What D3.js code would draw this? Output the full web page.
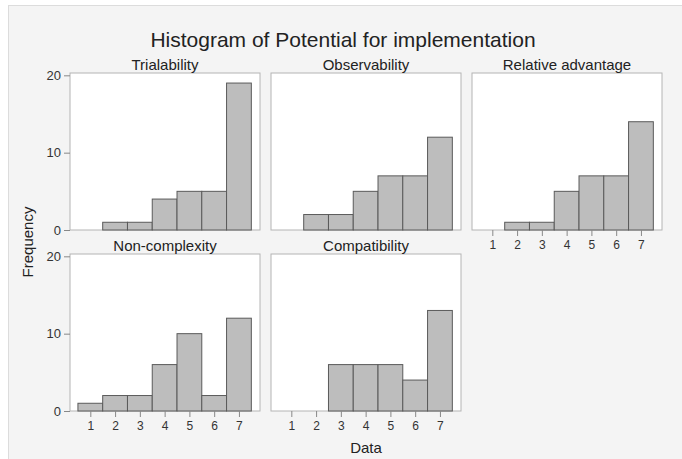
<!DOCTYPE html>
<html>
<head>
<meta charset="utf-8">
<script src="https://cdn.jsdelivr.net/npm/d3@7"></script>
<style>
  body { margin: 0; background: #fff; }
  svg { display: block; font-family: "Liberation Sans", Arial, sans-serif; }
</style>
</head>
<body>
<div id="chart"></div>
<script>
// Data
const panels = ["Trialability", "Observability", "Relative advantage", "Non-complexity", "Compatibility"];
const bins = [1, 2, 3, 4, 5, 6, 7];
const trialability = [0, 1, 1, 4, 5, 5, 19];
const observability = [0, 2, 2, 5, 7, 7, 12];
const relativeAdvantage = [0, 1, 1, 5, 7, 7, 14];
const nonComplexity = [1, 2, 2, 6, 10, 2, 12];
const compatibility = [0, 0, 6, 6, 6, 4, 13];
const counts = [trialability, observability, relativeAdvantage, nonComplexity, compatibility];
const yTicks = [0, 10, 20];

const W = 682, H = 459;
const svg = d3.select("#chart").append("svg")
    .attr("width", W)
    .attr("height", H);

// Background + frame
svg.append("rect")
    .attr("x", 8.5).attr("y", 5.5)
    .attr("width", W).attr("height", H)
    .attr("fill", "#f4f4f4")
    .attr("stroke", "#dcdcdc");

// Title
svg.append("text")
    .attr("x", 343).attr("y", 47)
    .attr("text-anchor", "middle")
    .style("font-size", "21px")
    .style("fill", "#222")
    .text("Histogram of Potential for implementation");

// Panel geometry
const colX = [70, 271, 472];
const rowY = [73, 254];
const pw = 190, ph = 157;

const x0 = d3.scaleLinear().domain([0.18, 7.85]).range([0, pw]);
const y0 = d3.scaleLinear().domain([0, 20.3]).range([ph, 0]);

panels.forEach((name, i) => {
    const col = i % 3, row = Math.floor(i / 3);
    const g = svg.append("g")
        .attr("transform", `translate(${colX[col]},${rowY[row]})`);

    g.append("rect")
        .attr("width", pw).attr("height", ph)
        .attr("fill", "#fff")
        .attr("stroke", "#b4b4b4");

    g.append("text")
        .attr("x", pw / 2).attr("y", -3)
        .attr("text-anchor", "middle")
        .style("font-size", "15px")
        .style("fill", "#222")
        .text(name);

    g.selectAll("rect.bar")
        .data(bins.map((b, j) => ({ b: b, n: counts[i][j] })).filter(d => d.n > 0))
        .enter()
        .append("rect")
        .attr("class", "bar")
        .attr("x", d => x0(d.b - 0.5))
        .attr("y", d => y0(d.n))
        .attr("width", d => x0(d.b + 0.5) - x0(d.b - 0.5))
        .attr("height", d => y0(0) - y0(d.n))
        .attr("fill", "#bdbdbd")
        .attr("stroke", "#5a5a5a")
        .attr("stroke-width", 1);

    // y axis only on first column
    if (col === 0) {
        const ya = g.append("g")
            .call(d3.axisLeft(y0).tickValues(yTicks).tickSize(6).tickPadding(3));
        ya.select(".domain").remove();
        ya.selectAll("line").attr("stroke", "#888");
        ya.selectAll("text").style("font-size", "13px").style("fill", "#333")
            .style("font-family", "\"Liberation Sans\", Arial, sans-serif");
    }

    // x axis on the bottom panel of each column
    if (row === 1 || col === 2) {
        const xa = g.append("g")
            .attr("transform", `translate(0,${ph})`)
            .call(d3.axisBottom(x0).tickValues(bins).tickSize(6).tickPadding(4));
        xa.select(".domain").remove();
        xa.selectAll("line").attr("stroke", "#888");
        xa.selectAll("text").style("font-size", "12px").style("fill", "#333")
            .style("font-family", "\"Liberation Sans\", Arial, sans-serif");
    }
});

// Axis labels
svg.append("text")
    .attr("transform", `translate(33,${(rowY[0] + rowY[1] + ph) / 2}) rotate(-90)`)
    .attr("text-anchor", "middle")
    .style("font-size", "15px")
    .style("fill", "#222")
    .text("Frequency");

svg.append("text")
    .attr("x", colX[1] + pw / 2).attr("y", 453)
    .attr("text-anchor", "middle")
    .style("font-size", "15px")
    .style("fill", "#222")
    .text("Data");
</script>
</body>
</html>
